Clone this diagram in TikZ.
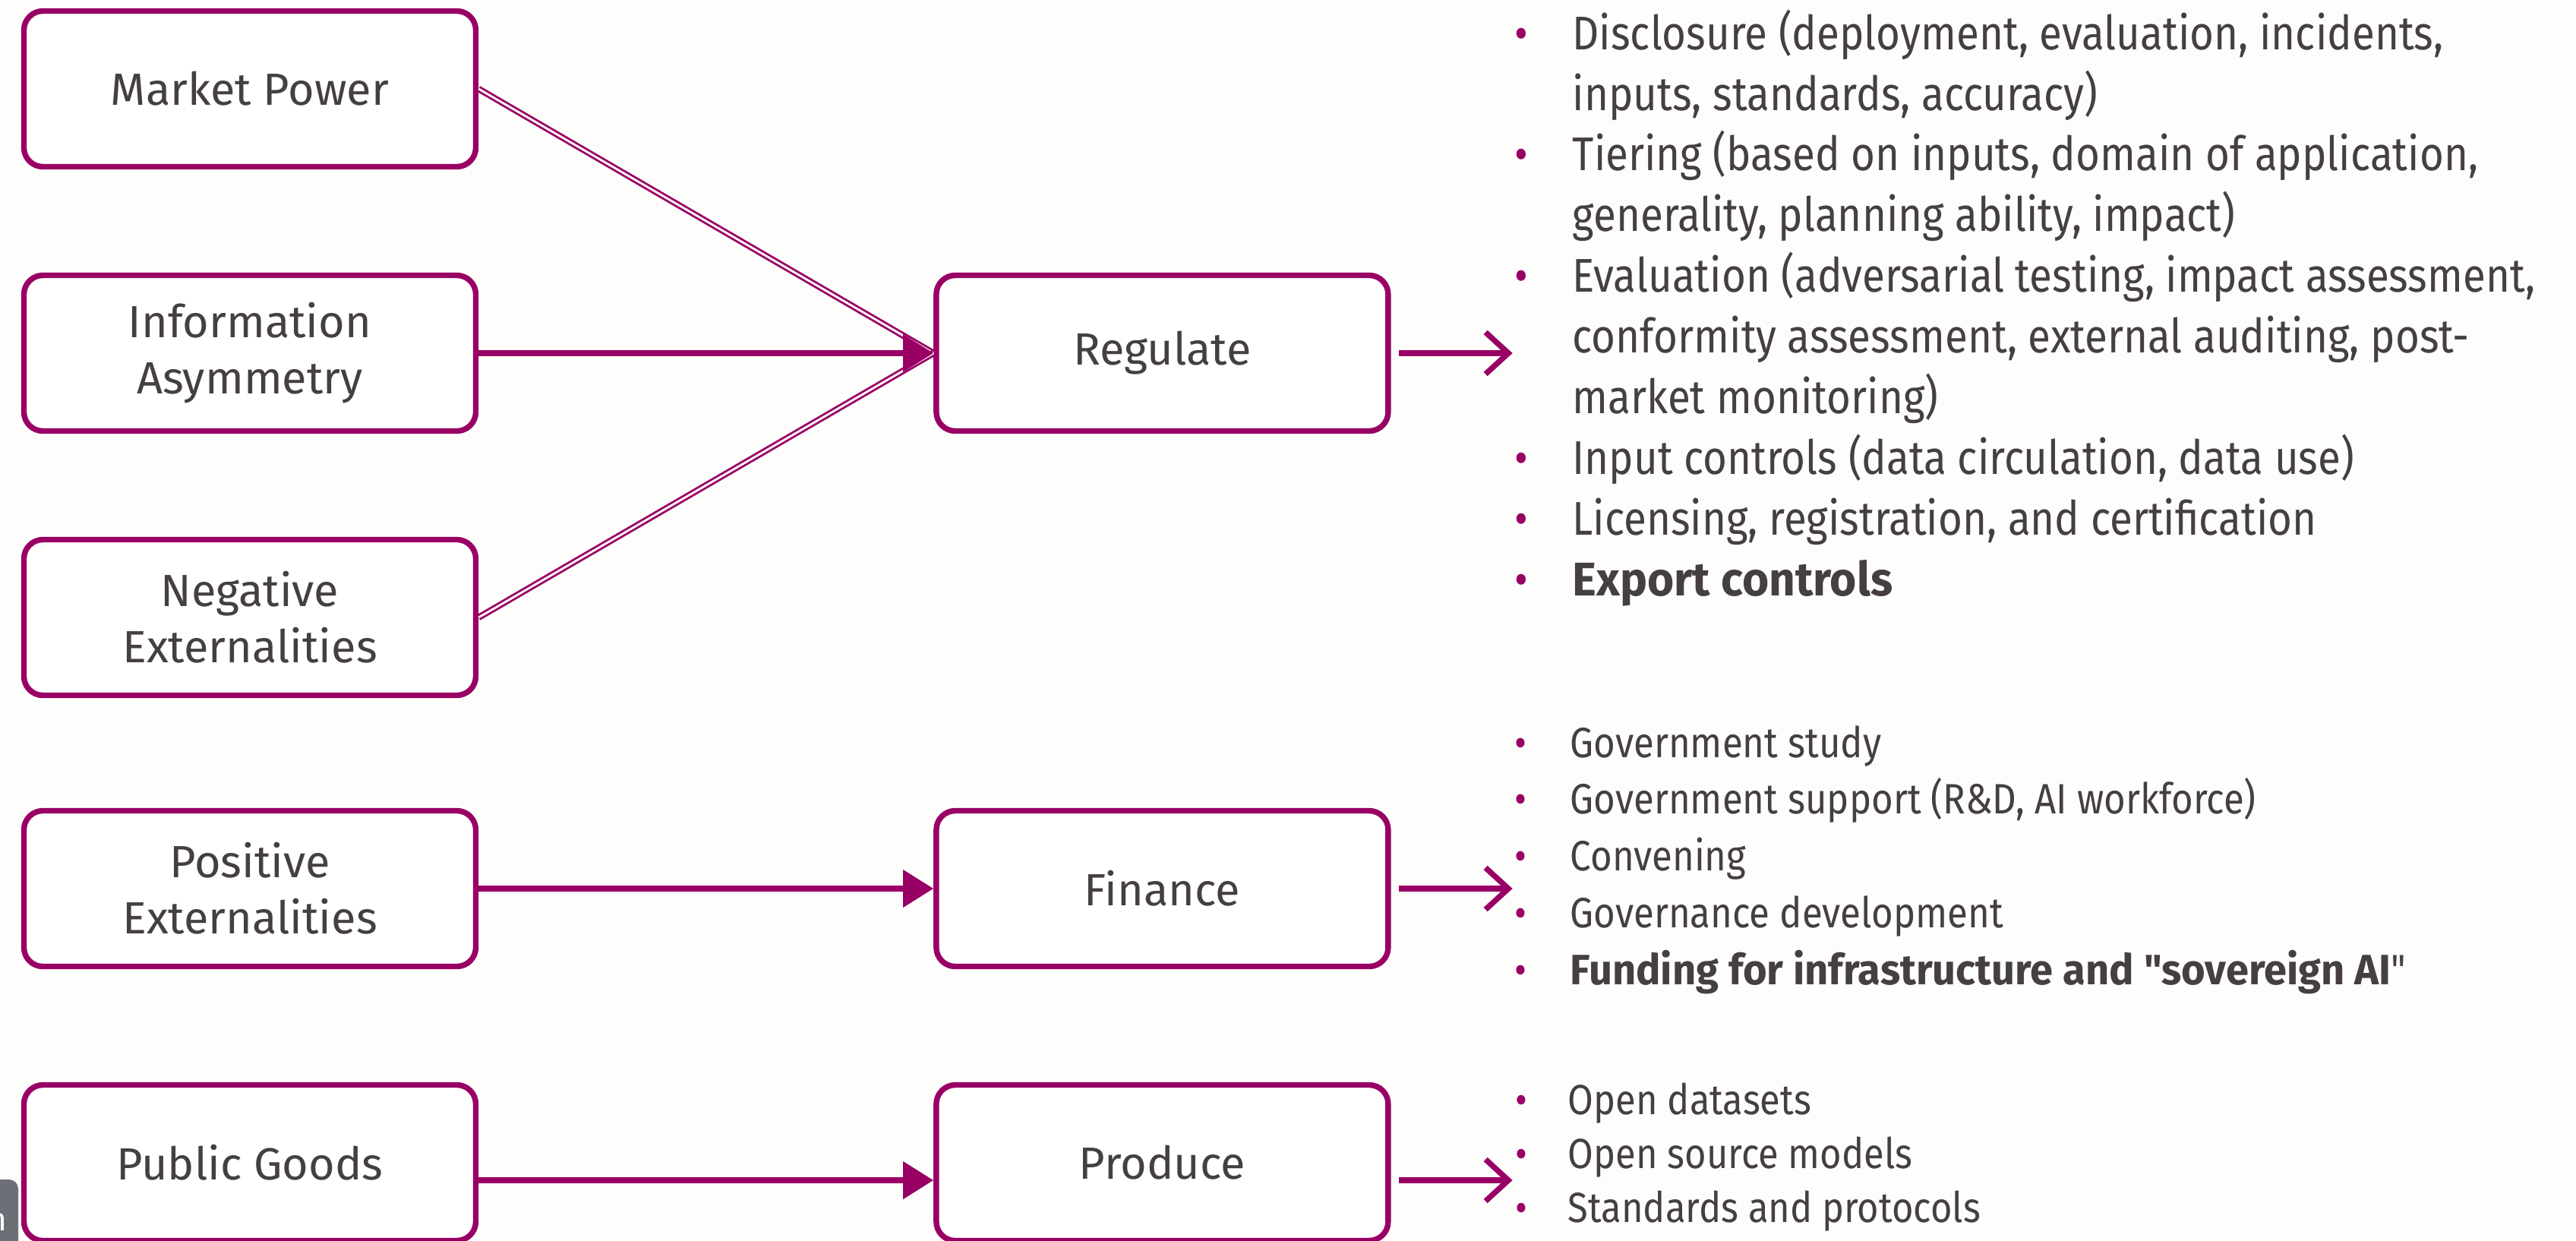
\documentclass[tikz,border=0pt]{standalone}
\usepackage{fontspec}
\setmainfont{Fira Sans}
\newfontfamily\listfont{Fira Sans}[FakeStretch=0.88, BoldFeatures={FakeStretch=0.97}]
\usepackage{xcolor}
\usetikzlibrary{positioning, arrows.meta}

\definecolor{plum}{HTML}{990066}
\definecolor{ink}{HTML}{453F3F}
\definecolor{paper}{HTML}{FDFDFB}
\definecolor{tipgray}{HTML}{6C6F76}

\newcommand{\itm}[1]{\makebox[#1][l]{\textcolor{plum}{•}}}

\begin{document}
\begin{tikzpicture}[
					factor/.style={
						draw=plum, line width=2.1pt, rounded corners=0.25cm,
						minimum width=5.95cm, minimum height=2.05cm,
						align=center, text=ink, fill=white,
						font=\fontsize{16.9}{21}\selectfont
					},
					action/.style={factor},
					feed/.style={draw=plum, line width=2.1pt, -{Triangle[length=0.4cm,width=0.48cm]}},
					twin/.style={draw=plum, double=paper, line width=0.8pt, double distance=0.8pt},
					leadout/.style={draw=plum, line width=2.1pt, -{Straight Barb[length=0.3cm,width=0.55cm]}},
					bullets/.style={anchor=base west, inner sep=0pt, text=ink}
					]
					
					% --- KHUNG ẢNH ---
					\useasboundingbox (0,0) rectangle (33.92,-16.33);
					\clip (0,0) rectangle (33.92,-16.33);
					\fill[paper] (0,0) rectangle (33.92,-16.33);
					
					% --- CỘT TRÁI: các thất bại thị trường ---
					\node[factor] (mp) at (3.29,-1.17) {Market Power};
					\node[factor] (ia) at (3.29,-4.65) {Information\\Asymmetry};
					\node[factor] (ne) at (3.29,-8.13) {Negative\\Externalities};
					\node[factor] (pe) at (3.29,-11.70) {Positive\\Externalities};
					\node[factor] (pg) at (3.29,-15.31) {Public Goods};
					
					% --- CỘT GIỮA: công cụ ---
					\node[action, right=5.99cm of ia] (reg) {Regulate};
					\node[action, right=5.99cm of pe] (fin) {Finance};
					\node[action, right=5.99cm of pg] (prod) {Produce};
					
					% --- MŨI TÊN VÀO ---
					\draw[twin] (mp.east) -- (reg.west);
					\draw[twin] (ne.east) -- (reg.west);
					\draw[feed] (ia.east) -- (reg.west);
					\draw[feed] (pe.east) -- (fin.west);
					\draw[feed] ([yshift=-0.23cm]pg.east) -- ([yshift=-0.23cm]prod.west);
					
					% --- MŨI TÊN RA ---
					\coordinate[right=1.6cm of reg] (regend);
					\coordinate[right=1.6cm of fin] (finend);
					\coordinate[right=1.6cm of prod, yshift=-0.23cm] (prodend);
					\draw[leadout] ([xshift=0.1cm]reg.east) -- (regend);
					\draw[leadout] ([xshift=0.1cm]fin.east) -- (finend);
					\draw[leadout] ([xshift=0.1cm,yshift=-0.23cm]prod.east) -- (prodend);
					
					% --- DANH SÁCH BÊN PHẢI ---
					\node[bullets, font=\listfont\fontsize{17.7}{22.76}\selectfont] (reglist) at (19.94,-0.65) {%
						\begin{tabular}[t]{@{}l@{}}
						\itm{0.76cm}Disclosure (deployment, evaluation, incidents,\\
						\hspace*{0.76cm}inputs, standards, accuracy)\\
						\itm{0.76cm}Tiering (based on inputs, domain of application,\\
						\hspace*{0.76cm}generality, planning ability, impact)\\
						\itm{0.76cm}Evaluation (adversarial testing, impact assessment,\\
						\hspace*{0.76cm}conformity assessment, external auditing, post-\\
						\hspace*{0.76cm}market monitoring)\\
						\itm{0.76cm}Input controls (data circulation, data use)\\
						\itm{0.76cm}Licensing, registration, and certification\\
						\itm{0.76cm}\textbf{Export controls}
						\end{tabular}};
					\node[bullets, font=\listfont\fontsize{15.9}{21.3}\selectfont] (finlist) at (19.94,-9.97) {%
						\begin{tabular}[t]{@{}l@{}}
						\itm{0.73cm}Government study\\
						\itm{0.73cm}Government support (R\&D, AI workforce)\\
						\itm{0.73cm}Convening\\
						\itm{0.73cm}Governance development\\
						\itm{0.73cm}\textbf{Funding for infrastructure and "sovereign AI}"
						\end{tabular}};
					\node[bullets, font=\listfont\fontsize{15.8}{20.2}\selectfont] (prodlist) at (19.95,-14.67) {%
						\begin{tabular}[t]{@{}l@{}}
						\itm{0.69cm}Open datasets\\
						\itm{0.69cm}Open source models\\
						\itm{0.69cm}Standards and protocols
						\end{tabular}};
					
					% --- GÓC DƯỚI TRÁI ---
					\fill[tipgray, rounded corners=0.12cm] (-1,-15.53) rectangle (0.24,-17);
					\node[text=white, anchor=base east, inner sep=0pt, font=\fontsize{12}{14}\selectfont] (tiph) at (0.10,-16.20) {h};
					
				\end{tikzpicture}
\end{document}
